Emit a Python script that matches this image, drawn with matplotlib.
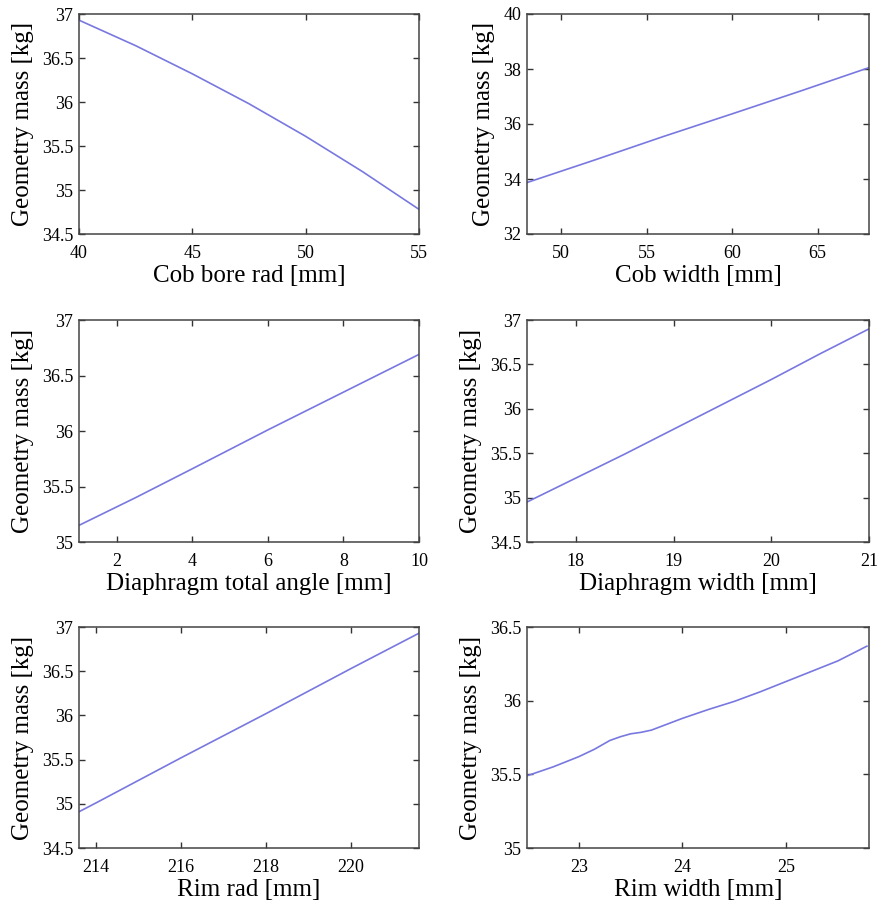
import matplotlib
matplotlib.use("Agg")
import matplotlib.pyplot as plt
from matplotlib.ticker import FormatStrFormatter

plt.rcParams['font.family'] = ['Liberation Serif', 'DejaVu Serif']

line_color = '#7878e0'
ylabel = "Geometry mass [kg]"

# Cob bore rad
bore_x = [40, 42.5, 45, 47.5, 50, 52.5, 55]
bore_y = [36.93, 36.64, 36.32, 35.98, 35.61, 35.21, 34.78]

# Cob width
cobw_x = [48, 52, 56, 60, 64, 68]
cobw_y = [33.87, 34.7, 35.55, 36.37, 37.2, 38.05]

# Diaphragm total angle
angle_x = [1, 2.5, 4, 6, 8, 10]
angle_y = [35.15, 35.4, 35.66, 36.01, 36.35, 36.69]

# Diaphragm width
diaw_x = [17.5, 18, 18.5, 19, 19.5, 20, 20.5, 21]
diaw_y = [34.95, 35.22, 35.49, 35.77, 36.05, 36.33, 36.62, 36.9]

# Rim rad
rimr_x = [213.6, 214, 216, 218, 220, 221.6]
rimr_y = [34.91, 35.01, 35.52, 36.02, 36.53, 36.93]

# Rim width
rimw_x = [22.5, 22.75, 23, 23.15, 23.3, 23.4, 23.5, 23.6, 23.7, 23.85,
          24, 24.25, 24.5, 24.75, 25, 25.25, 25.5, 25.78]
rimw_y = [35.49, 35.55, 35.62, 35.67, 35.73, 35.755, 35.775, 35.785, 35.8, 35.84,
          35.88, 35.94, 35.995, 36.06, 36.13, 36.2, 36.27, 36.37]

panels = [
    (bore_x, bore_y, "Cob bore rad [mm]", (40, 55), [40, 45, 50, 55], (34.5, 37), [34.5, 35, 35.5, 36, 36.5, 37]),
    (cobw_x, cobw_y, "Cob width [mm]", (48, 68), [50, 55, 60, 65], (32, 40), [32, 34, 36, 38, 40]),
    (angle_x, angle_y, "Diaphragm total angle [mm]", (1, 10), [2, 4, 6, 8, 10], (35, 37), [35, 35.5, 36, 36.5, 37]),
    (diaw_x, diaw_y, "Diaphragm width [mm]", (17.5, 21), [18, 19, 20, 21], (34.5, 37), [34.5, 35, 35.5, 36, 36.5, 37]),
    (rimr_x, rimr_y, "Rim rad [mm]", (213.6, 221.6), [214, 216, 218, 220], (34.5, 37), [34.5, 35, 35.5, 36, 36.5, 37]),
    (rimw_x, rimw_y, "Rim width [mm]", (22.5, 25.8), [23, 24, 25], (35, 36.5), [35, 35.5, 36, 36.5]),
]

W, H = 882, 905
fig = plt.figure(figsize=(W / 100, H / 100), dpi=100)

lefts = [79, 527]
widths = [340, 342]
tops = [14, 320, 627]
heights = [220, 222, 221]

for i, (x, y, xl, xlim, xt, ylim, yt) in enumerate(panels):
    r, c = divmod(i, 2)
    ax = fig.add_axes([lefts[c] / W, 1 - (tops[r] + heights[r]) / H,
                       widths[c] / W, heights[r] / H])
    ax.plot(x, y, color=line_color, lw=1.2)
    ax.set_xlim(xlim)
    ax.set_ylim(ylim)
    ax.set_xticks(xt)
    ax.set_yticks(yt)
    ax.xaxis.set_major_formatter(FormatStrFormatter('%g'))
    ax.yaxis.set_major_formatter(FormatStrFormatter('%g'))
    ax.tick_params(direction='in', top=True, right=True, length=4, width=1,
                   labelsize=13, color='#333333')
    ax.tick_params(axis='x', pad=8)
    ax.tick_params(axis='y', pad=4)
    for s in ax.spines.values():
        s.set_color('#444444')
        s.set_linewidth(1.1)
    ax.set_xlabel(xl, fontsize=18, labelpad=2)
    ax.set_ylabel(ylabel, fontsize=18, labelpad=6)

fig.savefig("out.png", dpi=100)
